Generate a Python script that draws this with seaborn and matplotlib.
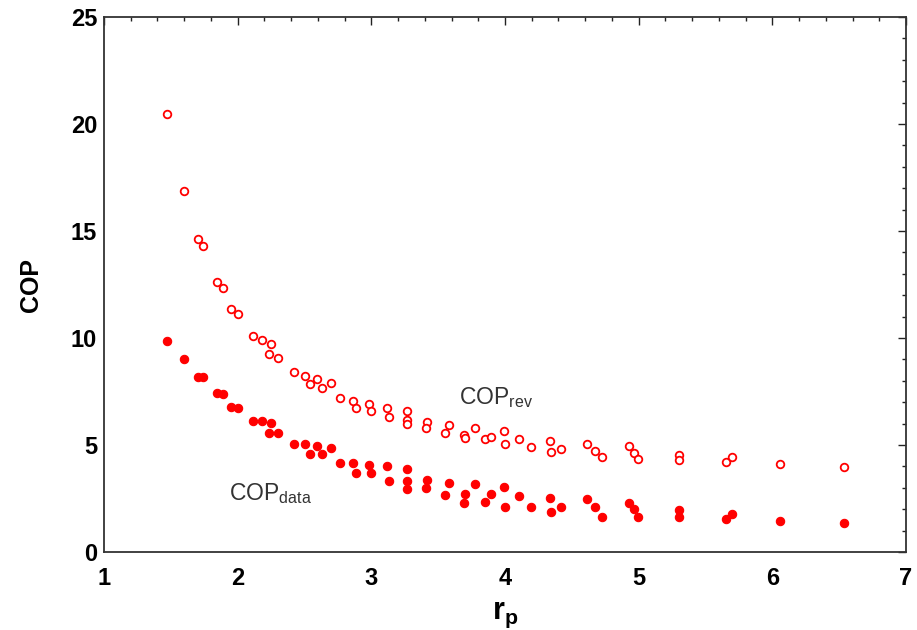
import numpy as np
import pandas as pd
import matplotlib
matplotlib.use("Agg")
import matplotlib.pyplot as plt
from matplotlib.ticker import MultipleLocator
import seaborn as sns

# Pressure ratio and coefficient of performance (reversible vs. measured)
rp = [1.469, 1.596, 1.703, 1.738, 1.845, 1.887, 1.947, 1.999, 2.116, 2.181,
      2.248, 2.233, 2.300, 2.422, 2.504, 2.542, 2.597, 2.634, 2.700, 2.764,
      2.863, 2.887, 2.984, 3.001, 3.119, 3.130, 3.268, 3.265, 3.265, 3.414,
      3.407, 3.582, 3.549, 3.694, 3.702, 3.773, 3.850, 3.892, 3.992, 3.997,
      4.104, 4.191, 4.333, 4.343, 4.418, 4.615, 4.671, 4.727, 4.926, 4.963,
      4.993, 5.300, 5.300, 5.656, 5.699, 6.060, 6.538]
cop_rev = [20.47, 16.87, 14.61, 14.31, 12.63, 12.35, 11.36, 11.10, 10.11, 9.91,
           9.71, 9.25, 9.08, 8.40, 8.24, 7.84, 8.08, 7.68, 7.91, 7.18,
           7.06, 6.74, 6.91, 6.60, 6.75, 6.29, 6.60, 6.17, 5.97, 6.09,
           5.78, 5.93, 5.57, 5.47, 5.31, 5.78, 5.27, 5.39, 5.67, 5.03,
           5.27, 4.89, 5.17, 4.69, 4.80, 5.05, 4.73, 4.43, 4.95, 4.61,
           4.35, 4.53, 4.30, 4.22, 4.43, 4.11, 3.99]
cop_data = [9.88, 9.01, 8.16, 8.16, 7.42, 7.37, 6.76, 6.74, 6.14, 6.14,
            6.01, 5.57, 5.57, 5.05, 5.03, 4.57, 4.95, 4.57, 4.88, 4.16,
            4.16, 3.71, 4.08, 3.71, 4.02, 3.33, 3.88, 3.33, 2.93, 3.36,
            2.98, 3.24, 2.66, 2.30, 2.70, 3.16, 2.35, 2.70, 3.04, 2.12,
            2.60, 2.12, 2.52, 1.88, 2.09, 2.46, 2.09, 1.62, 2.30, 2.00,
            1.62, 1.96, 1.62, 1.53, 1.78, 1.46, 1.34]

df = pd.DataFrame({"rp": rp, "cop_rev": cop_rev, "cop_data": cop_data})

sns.set_style("white")
plt.rcParams["font.family"] = ["Liberation Sans", "DejaVu Sans"]
plt.rcParams["mathtext.fontset"] = "custom"
plt.rcParams["mathtext.rm"] = "Liberation Sans"
plt.rcParams["mathtext.bf"] = "Liberation Sans:bold"

fig = plt.figure(figsize=(9.17, 6.3), dpi=100)
ax = fig.add_axes([0.1134, 0.1238, 0.8746, 0.8492])

sns.scatterplot(data=df, x="rp", y="cop_rev", ax=ax, marker="o", s=30,
                facecolor="white", edgecolor="#ff0000", linewidth=1.3, zorder=3)
sns.scatterplot(data=df, x="rp", y="cop_data", ax=ax, marker="o", s=36,
                color="#ff0000", edgecolor="#ff0000", linewidth=0.8, zorder=3)

ax.set_xlim(1, 7)
ax.set_ylim(0, 25)
ax.xaxis.set_major_locator(MultipleLocator(1))
ax.xaxis.set_minor_locator(MultipleLocator(0.2))
ax.yaxis.set_major_locator(MultipleLocator(5))
ax.yaxis.set_minor_locator(MultipleLocator(1))
ax.tick_params(which="both", direction="in", top=True, right=True,
               color="#222222", width=1.0, labelcolor="black")
ax.tick_params(which="major", length=6, labelsize=17)
ax.tick_params(axis="x", which="major", pad=11)
ax.tick_params(axis="y", which="major", pad=5)
ax.tick_params(which="minor", length=3)
for lab in ax.get_xticklabels() + ax.get_yticklabels():
    lab.set_fontweight("bold")
for sp in ax.spines.values():
    sp.set_linewidth(1.3)
    sp.set_color("#333333")

ax.set_xlabel(r"$\mathbf{r_p}$", fontsize=22, labelpad=7, color="black")
ax.set_ylabel("COP", fontsize=18, fontweight="bold", labelpad=20, color="black")

ax.text(3.653, 6.9, r"COP$_{\mathrm{rev}}$", fontsize=16.5, color="#333333")
ax.text(1.934, 2.43, r"COP$_{\mathrm{data}}$", fontsize=16.5, color="#333333")

fig.savefig("out.png", dpi=100)
